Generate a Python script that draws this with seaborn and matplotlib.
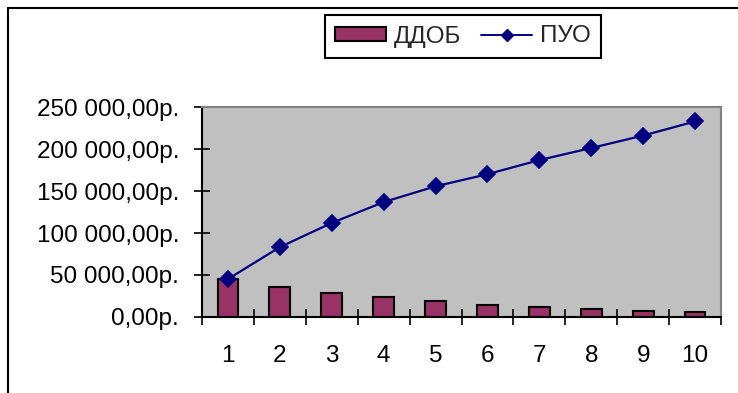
import matplotlib
matplotlib.use("Agg")
import matplotlib.pyplot as plt
from matplotlib.lines import Line2D
from matplotlib.patches import Patch
import seaborn as sns
import pandas as pd

# Years of the period
years = ["1", "2", "3", "4", "5", "6", "7", "8", "9", "10"]
# Discounted cash flow per year (ДДОБ)
ddob = [45200, 35600, 28800, 23600, 18800, 14000, 11600, 9200, 6800, 6400]
# Cumulative value (ПУО)
puo = [45200, 83200, 112000, 136800, 155600, 170000, 186800, 201200, 216000, 232800]

y_ticks = [0, 50000, 100000, 150000, 200000, 250000]
y_tick_labels = ["0,00р.", "50 000,00р.", "100 000,00р.", "150 000,00р.",
                 "200 000,00р.", "250 000,00р."]

bar_color = "#993366"
line_color = "#000080"
font_size = 17.5

sns.set_theme(style="white")
plt.rcParams["font.family"] = ["Liberation Sans", "DejaVu Sans"]

df = pd.DataFrame({"year": years, "ddob": ddob, "puo": puo})

fig = plt.figure(figsize=(7.38, 3.93), dpi=100)
ax = fig.add_axes([202 / 738, 1 - 317 / 393, 519 / 738, 210 / 393])
ax.set_facecolor("#C0C0C0")

sns.barplot(data=df, x="year", y="ddob", color=bar_color, width=0.4,
            edgecolor="black", linewidth=1.5, saturation=1, ax=ax)
sns.pointplot(data=df, x="year", y="puo", color=line_color, markers="D",
              linestyles="-", errorbar=None, markersize=8, linewidth=1.6, ax=ax)

ax.set_xlim(-0.5, 9.5)
ax.set_ylim(0, 250000)
ax.set_xlabel("")
ax.set_ylabel("")

# y axis
ax.set_yticks(y_ticks)
ax.set_yticklabels(y_tick_labels)
ax.tick_params(axis="y", direction="inout", length=11, width=1.2, color="black",
               pad=11, labelsize=font_size, left=True, labelcolor="black")

# x axis: labels centred on categories, tick marks between categories
ax.set_xticks(range(len(years)))
ax.set_xticklabels(years)
ax.set_xticks([i - 0.5 for i in range(len(years) + 1)], minor=True)
ax.tick_params(axis="x", which="major", length=0, pad=20, labelsize=font_size,
               labelcolor="black")
ax.tick_params(axis="x", which="minor", direction="inout", length=11, width=1.2,
               color="black", bottom=True)

for side in ("left", "bottom"):
    ax.spines[side].set_color("black")
    ax.spines[side].set_linewidth(1.5)
for side in ("top", "right"):
    ax.spines[side].set_color("#808080")
    ax.spines[side].set_linewidth(1.5)

handles = [
    Patch(facecolor=bar_color, edgecolor="black", linewidth=1.5, label="ДДОБ"),
    Line2D([], [], color=line_color, marker="D", markersize=6, linewidth=1.4,
           label="ПУО"),
]
leg = fig.legend(handles=handles, loc="center", bbox_to_anchor=(463 / 738, 1 - 36.5 / 393),
                 ncol=2, frameon=True, fancybox=False, fontsize=font_size,
                 handlelength=2.1, handleheight=0.55, handletextpad=0.33,
                 columnspacing=0.8, borderpad=0.42, borderaxespad=0)
frame = leg.get_frame()
frame.set_edgecolor("black")
frame.set_linewidth(1.5)
frame.set_facecolor("white")
frame.set_alpha(1)

# outer chart frame (top and left edges)
fig.add_artist(Line2D([7.5 / 738, 7.5 / 738], [0, 1 - 7.5 / 393],
                      transform=fig.transFigure, color="black", linewidth=1.5))
fig.add_artist(Line2D([7.5 / 738, 1], [1 - 7.5 / 393, 1 - 7.5 / 393],
                      transform=fig.transFigure, color="black", linewidth=1.5))

fig.savefig("out.png", dpi=100)
